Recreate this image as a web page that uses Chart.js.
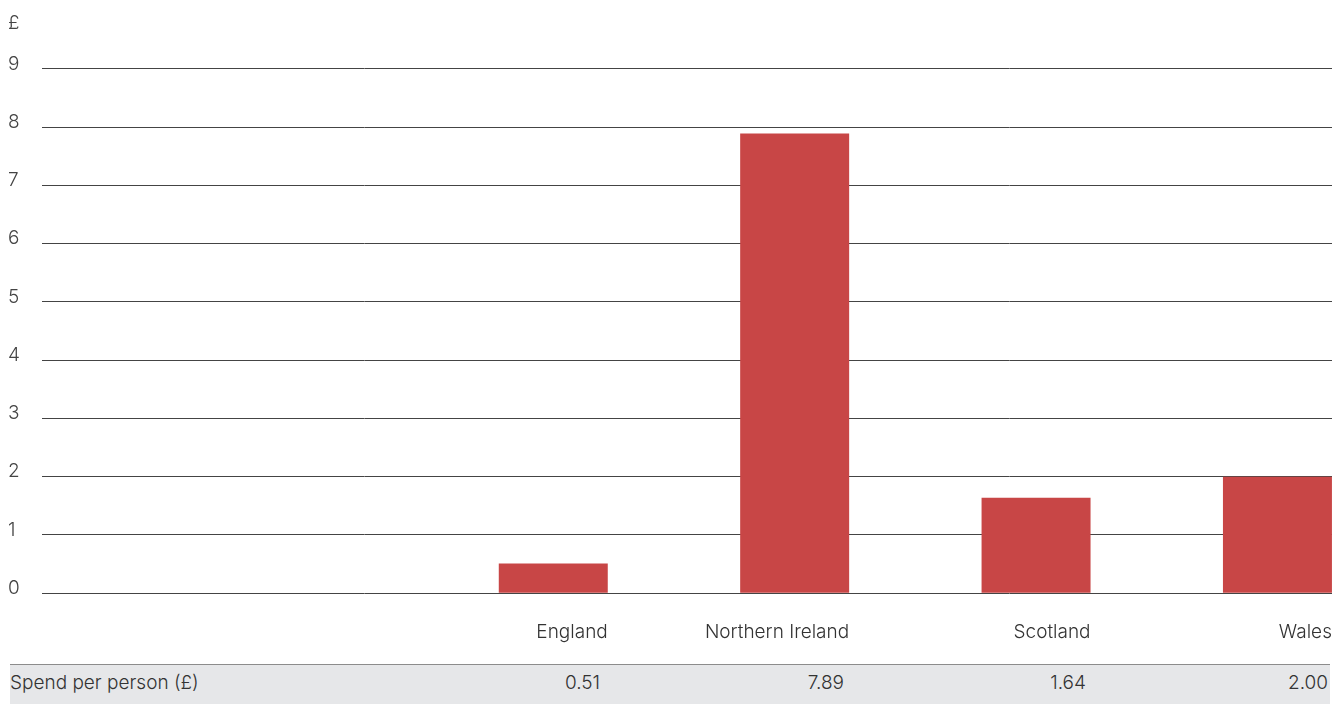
<!DOCTYPE html>
<html>
<head>
<meta charset="utf-8">
<script src="https://cdn.jsdelivr.net/npm/chart.js@4.4.1/dist/chart.umd.min.js"></script>
<style>
  body { margin: 0; background: #fff; }
  #wrap { position: relative; width: 1333px; height: 704px; font-family: Inter, sans-serif; font-weight: 300; color: #333; }
  #chartBox { position: absolute; left: 0; top: 0; width: 1333px; height: 644px; }
  #row { position: absolute; left: 10px; top: 664px; width: 1320px; height: 40px; background: #e6e7e9; border-top: 1.5px solid #8c8c8c; box-sizing: border-box; font-size: 19px; }
  #row div { position: absolute; top: 0; line-height: 35px; white-space: nowrap; }
</style>
</head>
<body>
<div id="wrap">
  <div id="chartBox"><canvas id="spend-chart"></canvas></div>
  <div id="row"></div>
</div>
<script>
// --- data ---
const categories = ['England', 'Northern Ireland', 'Scotland', 'Wales'];
const spendPerPerson = [0.51, 7.89, 1.64, 2.00];
const yTickValues = [0, 1, 2, 3, 4, 5, 6, 7, 8, 9];
const unitLabel = '£';
const rowLabel = 'Spend per person (£)';

// bars sit at 1..4 on a linear x axis, label column takes the space on the left
const X_MIN = -1.118;
const X_MAX = 4.226;
const BAR_FRAC = 0.4515;
const FONT = { family: 'Inter, sans-serif', size: 19, weight: '300' };

const chart = new Chart(document.getElementById('spend-chart'), {
    type: 'bar',
    data: {
        datasets: [{
            label: rowLabel,
            data: categories.map((c, i) => ({ x: i + 1, y: spendPerPerson[i] })),
            backgroundColor: '#c84646',
            categoryPercentage: BAR_FRAC,
            barPercentage: 1,
            clip: false
        }]
    },
    options: {
        responsive: true,
        maintainAspectRatio: false,
        animation: false,
        layout: { padding: { left: 8, right: 1, top: 0, bottom: 0 } },
        plugins: {
            legend: { display: false },
            tooltip: { enabled: false },
            title: {
                display: true,
                text: unitLabel,
                align: 'start',
                color: '#444',
                font: FONT,
                padding: { top: 12, bottom: 34 }
            }
        },
        scales: {
            x: {
                type: 'linear',
                bounds: 'data',
                offset: false,
                min: X_MIN,
                max: X_MAX,
                // tick marks hidden, their length just pushes the labels down
                grid: { display: false, drawTicks: true, tickLength: 28 },
                border: { display: false },
                afterBuildTicks: function(scale) {
                    scale.ticks = categories.map((c, i) => ({ value: i + 1 + BAR_FRAC / 2 }));
                },
                ticks: {
                    autoSkip: false,
                    maxRotation: 0,
                    align: 'end',
                    padding: 0,
                    color: '#333',
                    font: FONT,
                    callback: function(value, index) {
                        return categories[index];
                    }
                }
            },
            y: {
                min: 0,
                max: 9,
                afterBuildTicks: function(scale) {
                    scale.ticks = yTickValues.map(v => ({ value: v }));
                },
                afterFit: function(scale) {
                    scale.width = 34;
                },
                grid: { color: '#444', lineWidth: 1, drawTicks: false },
                border: { display: false },
                ticks: {
                    crossAlign: 'far',
                    labelOffset: -5,
                    padding: 0,
                    color: '#444',
                    font: FONT
                }
            }
        }
    }
});

// table row under the chart, right-aligned under each bar
const row = document.getElementById('row');
const colRight = [590, 834, 1076, 1318];
const first = document.createElement('div');
first.style.left = '0px';
first.textContent = rowLabel;
row.appendChild(first);
spendPerPerson.forEach((v, i) => {
    const cell = document.createElement('div');
    cell.style.right = (1320 - colRight[i]) + 'px';
    cell.textContent = v.toFixed(2);
    row.appendChild(cell);
});
</script>
</body>
</html>
